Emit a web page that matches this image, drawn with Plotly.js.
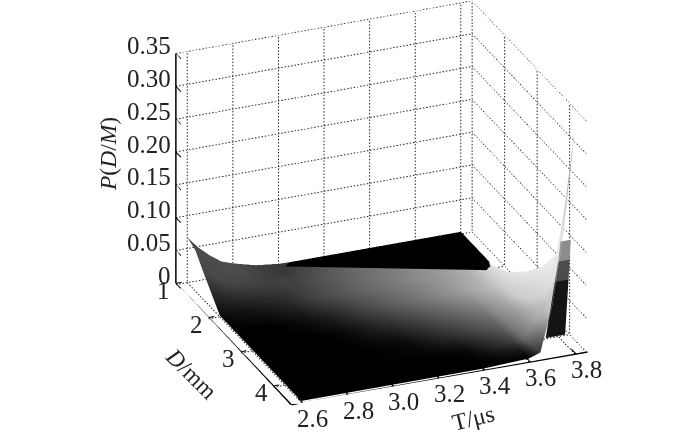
<!DOCTYPE html>
<html><head><meta charset="utf-8">
<script src="https://cdn.plot.ly/plotly-3.0.1.min.js"></script>
<style>html,body{margin:0;padding:0;background:#fff}</style></head>
<body><div id="chart" style="width:700px;height:432px"></div>
<script>
const Ts=[2.6,2.65,2.7,2.75,2.8,2.9,3.0,3.2,3.4,3.6,3.65,3.7,3.75,3.8];
const Ds=[1,1.25,1.5,2,2.5,3,3.5,4,4.25,4.5];
const P=[
[.067,.048,.033,.021,.015,.006,.002,0,0,0,0,0,0,0],
[.06,.043,.03,.019,.013,.005,.001,0,0,0,0,0,0,0],
[.039,.028,.019,.012,.008,.003,.001,0,0,0,0,0,0,0],
[0,0,0,0,0,0,0,0,0,0,0,0,0,.002],
[0,0,0,0,0,0,0,0,0,0,0,.001,.004,.018],
[0,0,0,0,0,0,0,0,0,.001,.001,.005,.012,.045],
[0,0,0,0,0,0,0,0,0,.002,.002,.012,.03,.078],
[0,0,0,0,0,0,0,0,0,.003,.004,.03,.07,.128],
[0,0,0,0,0,0,0,0,0,.003,.006,.05,.11,.23],
[0,0,0,0,0,0,0,0,0,.003,.009,.074,.18,.335]];
const shade=[
[.3,.3,.3,.3,.3,.25,.22,.33,.45,.6,.65,.7,.75,.85],
[.3,.3,.3,.3,.3,.25,.22,.35,.45,.6,.65,.7,.78,.88],
[.28,.28,.28,.27,.26,.25,.26,.38,.48,.6,.65,.7,.8,.9],
[.04,.06,.07,.09,.11,.15,.25,.38,.5,.62,.66,.7,.8,.9],
[0,0,0,0,.015,.06,.12,.3,.45,.62,.67,.72,.8,.9],
[0,0,0,0,0,0,.03,.17,.33,.5,.58,.65,.8,.9],
[0,0,0,0,0,0,0,.04,.2,.38,.5,.6,.8,.92],
[0,0,0,0,0,0,0,0,.03,.25,.42,.65,.85,.95],
[0,0,0,0,0,0,0,0,.01,.1,.3,.7,.92,.88],
[0,0,0,0,0,0,0,0,0,.01,.2,.8,.92,.55]];
const shadowT=[2.95,3.8,3.8], shadowD=[1,1,2.13], shadowP=[.0015,.0015,.0015];
const wallT=[3.675,3.76,3.715,3.775,3.73,3.78,3.74,3.785];
const wallP=[.029,.029,.112,.112,.142,.142,.172,.172];
const wallShade=[.08,.08,.3,.3,.55,.55];
const wallD=4.49;
const tTicks=[2.6,2.8,3.0,3.2,3.4,3.6,3.8], tLabels=['2.6','2.8','3.0','3.2','3.4','3.6','3.8'];
const dTicks=[1,2,3,4], dLabels=['1','2','3','4'];
const pTicks=[0,.05,.1,.15,.2,.25,.3,.35], pLabels=['0','0.05','0.10','0.15','0.20','0.25','0.30','0.35'];
const tRange=[2.55,3.85], dRange=[1,4.55], pRange=[-.003,.35];
const floorP=-.002;
const serif='"Liberation Serif","Times New Roman",serif';

function seg(xs,ys,zs,o){return Object.assign({type:'scatter3d',mode:'lines',x:xs,y:ys,z:zs,hoverinfo:'skip',showlegend:false},o);}
function collect(pairs){const x=[],y=[],z=[];pairs.forEach(p=>{x.push(p[0][0],p[1][0],null);y.push(p[0][1],p[1][1],null);z.push(p[0][2],p[1][2],null);});return [x,y,z];}
function dotify(pairs){const out=[];pairs.forEach(p=>{const n=p[2];for(let i=0;i<n;i++){const a=i/n,b=(i+.45)/n;
  const at=f=>[0,1,2].map(k=>p[0][k]+(p[1][k]-p[0][k])*f);out.push([at(a),at(b)]);}});return out;}
const dotted=[],solid=[],ticks=[];
const T0=tRange[0],T1=tRange[1],D0=dRange[0],D1=dRange[1],Z1=pRange[1];
const nT=90,nD=53,nZ=70;
tTicks.forEach(t=>{dotted.push([[t,D0,0],[t,D0,Z1],nZ]);dotted.push([[t,D0,floorP],[t,D1,floorP],nD]);ticks.push([[t,D1,0],[t,D1-.15,0]]);});
dTicks.forEach(d=>{dotted.push([[T1,d,0],[T1,d,Z1],nZ]);dotted.push([[T0,d,floorP],[T1,d,floorP],nT]);ticks.push([[T0,d,0],[T0+.025,d,0]]);});
pTicks.forEach(p=>{const q=p===0?floorP:p;dotted.push([[T0,D0,q],[T1,D0,q],nT]);dotted.push([[T1,D0,q],[T1,D1,q],nD]);ticks.push([[T0,D0,p],[T0,D0+.15,p]]);});
dotted.push([[T1,D0,0],[T1,D0,Z1],nZ]);
solid.push([[T0,D0,0],[T0,D0,Z1]],[[T0,D0,0],[T0,D1,0]],[[T0,D1,0],[T1,D1,0]]);
const gd=collect(dotify(dotted)),gs=collect(solid),gt=collect(ticks);
const data=[
 seg(gd[0],gd[1],gd[2],{line:{color:'#222',width:2}}),
 seg(gs[0],gs[1],gs[2],{line:{color:'#000',width:3}}),
 seg(gt[0],gt[1],gt[2],{line:{color:'#000',width:2}}),
 {type:'surface',x:Ts,y:Ds,z:P,surfacecolor:shade,cmin:0,cmax:1,showscale:false,hoverinfo:'skip',
  colorscale:[[0,'#000'],[1,'#fff']],lighting:{ambient:1,diffuse:0,specular:0,fresnel:0,roughness:1},
  contours:{x:{show:false},y:{show:false},z:{show:false}}},
 {type:'mesh3d',x:shadowT,y:shadowD,z:shadowP,i:[0],j:[1],k:[2],color:'#000',hoverinfo:'skip',lighting:{ambient:1,diffuse:0,specular:0,fresnel:0}},
 {type:'mesh3d',x:wallT,y:wallT.map(()=>wallD),z:wallP,i:[0,1,2,3,4,5],j:[1,2,3,4,5,6],k:[2,3,4,5,6,7],
  intensity:wallShade,intensitymode:'cell',cmin:0,cmax:1,showscale:false,colorscale:[[0,'#000'],[1,'#fff']],hoverinfo:'skip',lighting:{ambient:1,diffuse:0,specular:0,fresnel:0}}
];
const anns=[];
const tf={family:serif,size:25,color:'#222'};
pTicks.forEach((p,i)=>anns.push({x:T0,y:D0,z:p,text:pLabels[i],showarrow:false,xanchor:'right',yanchor:'middle',xshift:-3,yshift:8,font:tf}));
dTicks.forEach((d,i)=>anns.push({x:T0,y:d,z:0,text:dLabels[i],showarrow:false,xanchor:'center',yanchor:'middle',xshift:-12,yshift:-7,font:tf}));
tTicks.forEach((t,i)=>anns.push({x:t,y:D1,z:0,text:tLabels[i],showarrow:false,xanchor:'center',yanchor:'middle',xshift:10,yshift:-15.5,font:tf}));
const ax=r=>({range:r,showgrid:false,showline:false,zeroline:false,showticklabels:false,showbackground:false,showspikes:false,ticks:'',title:{text:''}});
const xa=ax(tRange),ya=ax([dRange[1],dRange[0]]),za=ax(pRange);
const tit={family:serif,size:23.5,color:'#222'};
const layout={width:700,height:432,margin:{l:0,r:0,t:0,b:0},paper_bgcolor:'#fff',showlegend:false,
 scene:{domain:{x:[0,1],y:[0,1]},xaxis:xa,yaxis:ya,zaxis:za,aspectmode:'manual',aspectratio:{x:1.483,y:1.405,z:1.19},
  camera:{projection:{type:'orthographic'},up:{x:0,y:0,z:1},center:{x:-.136,y:.0557,z:-.0627},eye:{x:-.544,y:-.937,z:.452}},annotations:anns},
 annotations:[
  {xref:'paper',yref:'paper',x:108/700,y:1-154/432,xanchor:'center',yanchor:'middle',text:'<i>P</i>(<i>D</i>/<i>M</i>)',textangle:-90,showarrow:false,font:tit},
  {xref:'paper',yref:'paper',x:191/700,y:1-373/432,xanchor:'center',yanchor:'middle',text:'<i>D</i>/mm',textangle:45,showarrow:false,font:tit},
  {xref:'paper',yref:'paper',x:473/700,y:1-418/432,xanchor:'center',yanchor:'middle',text:'T/μs',textangle:-14,showarrow:false,font:tit}
 ]};
Plotly.newPlot('chart',data,layout,{displayModeBar:false});
</script></body></html>
